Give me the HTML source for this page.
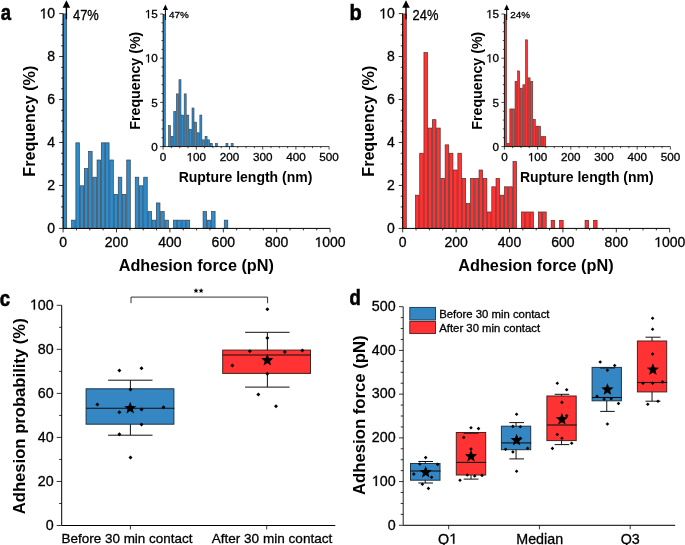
<!DOCTYPE html>
<html><head><meta charset="utf-8"><style>
html,body{margin:0;padding:0;background:#fff;}
svg{display:block;will-change:transform;}
text{font-family:"Liberation Sans", sans-serif;}
text.r{stroke:#000;stroke-width:0.3px;}
</style></head><body>
<svg width="685" height="545" viewBox="0 0 685 545">
<defs><path id="one" stroke="#000" stroke-width="45" d="M560 0V1245Q520 1195 420 1125T215 1010V1180Q330 1230 430 1305T575 1440H740V0Z"/></defs>
<rect width="685" height="545" fill="#fff"/>
<rect x="63.15" y="13.95" width="3.54" height="214.45" fill="#2f8bca" stroke="#35424f" stroke-width="0.7"/>
<rect x="71.63" y="220.16" width="3.54" height="8.24" fill="#2f8bca" stroke="#35424f" stroke-width="0.7"/>
<rect x="75.87" y="142.83" width="3.54" height="85.57" fill="#2f8bca" stroke="#35424f" stroke-width="0.7"/>
<rect x="80.11" y="185.79" width="3.54" height="42.61" fill="#2f8bca" stroke="#35424f" stroke-width="0.7"/>
<rect x="84.35" y="168.61" width="3.54" height="59.79" fill="#2f8bca" stroke="#35424f" stroke-width="0.7"/>
<rect x="88.59" y="151.42" width="3.54" height="76.98" fill="#2f8bca" stroke="#35424f" stroke-width="0.7"/>
<rect x="92.83" y="177.20" width="3.54" height="51.20" fill="#2f8bca" stroke="#35424f" stroke-width="0.7"/>
<rect x="97.07" y="160.01" width="3.54" height="68.39" fill="#2f8bca" stroke="#35424f" stroke-width="0.7"/>
<rect x="101.31" y="142.83" width="3.54" height="85.57" fill="#2f8bca" stroke="#35424f" stroke-width="0.7"/>
<rect x="105.55" y="142.83" width="3.54" height="85.57" fill="#2f8bca" stroke="#35424f" stroke-width="0.7"/>
<rect x="109.79" y="160.01" width="3.54" height="68.39" fill="#2f8bca" stroke="#35424f" stroke-width="0.7"/>
<rect x="114.03" y="194.38" width="3.54" height="34.02" fill="#2f8bca" stroke="#35424f" stroke-width="0.7"/>
<rect x="118.27" y="177.20" width="3.54" height="51.20" fill="#2f8bca" stroke="#35424f" stroke-width="0.7"/>
<rect x="122.51" y="194.38" width="3.54" height="34.02" fill="#2f8bca" stroke="#35424f" stroke-width="0.7"/>
<rect x="126.75" y="160.01" width="3.54" height="68.39" fill="#2f8bca" stroke="#35424f" stroke-width="0.7"/>
<rect x="135.23" y="177.20" width="3.54" height="51.20" fill="#2f8bca" stroke="#35424f" stroke-width="0.7"/>
<rect x="139.47" y="185.79" width="3.54" height="42.61" fill="#2f8bca" stroke="#35424f" stroke-width="0.7"/>
<rect x="143.71" y="177.20" width="3.54" height="51.20" fill="#2f8bca" stroke="#35424f" stroke-width="0.7"/>
<rect x="147.95" y="211.57" width="3.54" height="16.83" fill="#2f8bca" stroke="#35424f" stroke-width="0.7"/>
<rect x="152.19" y="220.16" width="3.54" height="8.24" fill="#2f8bca" stroke="#35424f" stroke-width="0.7"/>
<rect x="156.43" y="202.97" width="3.54" height="25.43" fill="#2f8bca" stroke="#35424f" stroke-width="0.7"/>
<rect x="160.67" y="211.57" width="3.54" height="16.83" fill="#2f8bca" stroke="#35424f" stroke-width="0.7"/>
<rect x="164.91" y="220.16" width="3.54" height="8.24" fill="#2f8bca" stroke="#35424f" stroke-width="0.7"/>
<rect x="173.39" y="220.16" width="3.54" height="8.24" fill="#2f8bca" stroke="#35424f" stroke-width="0.7"/>
<rect x="177.63" y="220.16" width="3.54" height="8.24" fill="#2f8bca" stroke="#35424f" stroke-width="0.7"/>
<rect x="181.87" y="220.16" width="3.54" height="8.24" fill="#2f8bca" stroke="#35424f" stroke-width="0.7"/>
<rect x="186.11" y="220.16" width="3.54" height="8.24" fill="#2f8bca" stroke="#35424f" stroke-width="0.7"/>
<rect x="203.07" y="211.57" width="3.54" height="16.83" fill="#2f8bca" stroke="#35424f" stroke-width="0.7"/>
<rect x="207.31" y="220.16" width="3.54" height="8.24" fill="#2f8bca" stroke="#35424f" stroke-width="0.7"/>
<rect x="211.55" y="211.57" width="3.54" height="16.83" fill="#2f8bca" stroke="#35424f" stroke-width="0.7"/>
<rect x="224.27" y="220.16" width="3.54" height="8.24" fill="#2f8bca" stroke="#35424f" stroke-width="0.7"/>
<line x1="63.10" y1="228.40" x2="330.10" y2="228.40" stroke="#000" stroke-width="1"/>
<line x1="63.10" y1="228.40" x2="63.10" y2="13.60" stroke="#000" stroke-width="1"/>
<line x1="59.10" y1="228.40" x2="63.10" y2="228.40" stroke="#000" stroke-width="0.8"/>
<line x1="61.10" y1="217.66" x2="63.10" y2="217.66" stroke="#000" stroke-width="0.8"/>
<line x1="61.10" y1="206.92" x2="63.10" y2="206.92" stroke="#000" stroke-width="0.8"/>
<line x1="61.10" y1="196.18" x2="63.10" y2="196.18" stroke="#000" stroke-width="0.8"/>
<line x1="59.10" y1="185.44" x2="63.10" y2="185.44" stroke="#000" stroke-width="0.8"/>
<line x1="61.10" y1="174.70" x2="63.10" y2="174.70" stroke="#000" stroke-width="0.8"/>
<line x1="61.10" y1="163.96" x2="63.10" y2="163.96" stroke="#000" stroke-width="0.8"/>
<line x1="61.10" y1="153.22" x2="63.10" y2="153.22" stroke="#000" stroke-width="0.8"/>
<line x1="59.10" y1="142.48" x2="63.10" y2="142.48" stroke="#000" stroke-width="0.8"/>
<line x1="61.10" y1="131.74" x2="63.10" y2="131.74" stroke="#000" stroke-width="0.8"/>
<line x1="61.10" y1="121.00" x2="63.10" y2="121.00" stroke="#000" stroke-width="0.8"/>
<line x1="61.10" y1="110.26" x2="63.10" y2="110.26" stroke="#000" stroke-width="0.8"/>
<line x1="59.10" y1="99.52" x2="63.10" y2="99.52" stroke="#000" stroke-width="0.8"/>
<line x1="61.10" y1="88.78" x2="63.10" y2="88.78" stroke="#000" stroke-width="0.8"/>
<line x1="61.10" y1="78.04" x2="63.10" y2="78.04" stroke="#000" stroke-width="0.8"/>
<line x1="61.10" y1="67.30" x2="63.10" y2="67.30" stroke="#000" stroke-width="0.8"/>
<line x1="59.10" y1="56.56" x2="63.10" y2="56.56" stroke="#000" stroke-width="0.8"/>
<line x1="61.10" y1="45.82" x2="63.10" y2="45.82" stroke="#000" stroke-width="0.8"/>
<line x1="61.10" y1="35.08" x2="63.10" y2="35.08" stroke="#000" stroke-width="0.8"/>
<line x1="61.10" y1="24.34" x2="63.10" y2="24.34" stroke="#000" stroke-width="0.8"/>
<line x1="59.10" y1="13.60" x2="63.10" y2="13.60" stroke="#000" stroke-width="0.8"/>
<text class="r" x="55.10" y="233.20" font-size="14" text-anchor="end" fill="#000">0</text>
<text class="r" x="55.10" y="190.24" font-size="14" text-anchor="end" fill="#000">2</text>
<text class="r" x="55.10" y="147.28" font-size="14" text-anchor="end" fill="#000">4</text>
<text class="r" x="55.10" y="104.32" font-size="14" text-anchor="end" fill="#000">6</text>
<text class="r" x="55.10" y="61.36" font-size="14" text-anchor="end" fill="#000">8</text>
<use href="#one" transform="translate(39.53 18.40) scale(0.00684 -0.00684)"/>
<text class="r" x="47.31" y="18.40" font-size="14" fill="#000">0</text>
<line x1="63.10" y1="228.40" x2="63.10" y2="232.40" stroke="#000" stroke-width="0.8"/>
<line x1="76.45" y1="228.40" x2="76.45" y2="230.40" stroke="#000" stroke-width="0.8"/>
<line x1="89.80" y1="228.40" x2="89.80" y2="230.40" stroke="#000" stroke-width="0.8"/>
<line x1="103.15" y1="228.40" x2="103.15" y2="230.40" stroke="#000" stroke-width="0.8"/>
<line x1="116.50" y1="228.40" x2="116.50" y2="232.40" stroke="#000" stroke-width="0.8"/>
<line x1="129.85" y1="228.40" x2="129.85" y2="230.40" stroke="#000" stroke-width="0.8"/>
<line x1="143.20" y1="228.40" x2="143.20" y2="230.40" stroke="#000" stroke-width="0.8"/>
<line x1="156.55" y1="228.40" x2="156.55" y2="230.40" stroke="#000" stroke-width="0.8"/>
<line x1="169.90" y1="228.40" x2="169.90" y2="232.40" stroke="#000" stroke-width="0.8"/>
<line x1="183.25" y1="228.40" x2="183.25" y2="230.40" stroke="#000" stroke-width="0.8"/>
<line x1="196.60" y1="228.40" x2="196.60" y2="230.40" stroke="#000" stroke-width="0.8"/>
<line x1="209.95" y1="228.40" x2="209.95" y2="230.40" stroke="#000" stroke-width="0.8"/>
<line x1="223.30" y1="228.40" x2="223.30" y2="232.40" stroke="#000" stroke-width="0.8"/>
<line x1="236.65" y1="228.40" x2="236.65" y2="230.40" stroke="#000" stroke-width="0.8"/>
<line x1="250.00" y1="228.40" x2="250.00" y2="230.40" stroke="#000" stroke-width="0.8"/>
<line x1="263.35" y1="228.40" x2="263.35" y2="230.40" stroke="#000" stroke-width="0.8"/>
<line x1="276.70" y1="228.40" x2="276.70" y2="232.40" stroke="#000" stroke-width="0.8"/>
<line x1="290.05" y1="228.40" x2="290.05" y2="230.40" stroke="#000" stroke-width="0.8"/>
<line x1="303.40" y1="228.40" x2="303.40" y2="230.40" stroke="#000" stroke-width="0.8"/>
<line x1="316.75" y1="228.40" x2="316.75" y2="230.40" stroke="#000" stroke-width="0.8"/>
<line x1="330.10" y1="228.40" x2="330.10" y2="232.40" stroke="#000" stroke-width="0.8"/>
<text class="r" x="63.10" y="247.00" font-size="14" text-anchor="middle" fill="#000">0</text>
<text class="r" x="116.50" y="247.00" font-size="14" text-anchor="middle" fill="#000">200</text>
<text class="r" x="169.90" y="247.00" font-size="14" text-anchor="middle" fill="#000">400</text>
<text class="r" x="223.30" y="247.00" font-size="14" text-anchor="middle" fill="#000">600</text>
<text class="r" x="276.70" y="247.00" font-size="14" text-anchor="middle" fill="#000">800</text>
<use href="#one" transform="translate(314.53 247.00) scale(0.00684 -0.00684)"/>
<text class="r" x="322.31" y="247.00" font-size="14" fill="#000">000</text>
<line x1="66.40" y1="19.30" x2="66.40" y2="6.00" stroke="#000" stroke-width="1.4"/>
<path d="M62.60 7.7 L66.40 0.3 L70.20 7.7 Z" fill="#000"/>
<text class="r" x="73.00" y="19.50" font-size="14" textLength="25.8" lengthAdjust="spacingAndGlyphs" fill="#000">47%</text>
<text x="196.30" y="271.40" font-size="16" text-anchor="middle" font-weight="bold" textLength="155.3" lengthAdjust="spacingAndGlyphs" fill="#000">Adhesion force (pN)</text>
<text x="34.60" y="121.20" font-size="16" text-anchor="middle" font-weight="bold" textLength="111" lengthAdjust="spacingAndGlyphs" transform="rotate(-90 34.60 121.20)" fill="#000">Frequency (%)</text>
<text transform="translate(0.70 19.80) scale(0.86 1)" font-size="21.5" font-weight="bold" stroke="#000" stroke-width="0.6">a</text>
<rect x="163.30" y="14.30" width="2.01" height="132.30" fill="#2f8bca" stroke="#35424f" stroke-width="0.6"/>
<rect x="168.52" y="125.68" width="2.01" height="20.92" fill="#2f8bca" stroke="#35424f" stroke-width="0.6"/>
<rect x="171.13" y="136.29" width="2.01" height="10.31" fill="#2f8bca" stroke="#35424f" stroke-width="0.6"/>
<rect x="173.74" y="111.54" width="2.01" height="35.06" fill="#2f8bca" stroke="#35424f" stroke-width="0.6"/>
<rect x="176.35" y="93.86" width="2.01" height="52.74" fill="#2f8bca" stroke="#35424f" stroke-width="0.6"/>
<rect x="178.96" y="79.72" width="2.01" height="66.88" fill="#2f8bca" stroke="#35424f" stroke-width="0.6"/>
<rect x="181.57" y="115.08" width="2.01" height="31.52" fill="#2f8bca" stroke="#35424f" stroke-width="0.6"/>
<rect x="184.18" y="93.86" width="2.01" height="52.74" fill="#2f8bca" stroke="#35424f" stroke-width="0.6"/>
<rect x="186.79" y="115.08" width="2.01" height="31.52" fill="#2f8bca" stroke="#35424f" stroke-width="0.6"/>
<rect x="189.40" y="129.22" width="2.01" height="17.38" fill="#2f8bca" stroke="#35424f" stroke-width="0.6"/>
<rect x="192.01" y="108.00" width="2.01" height="38.60" fill="#2f8bca" stroke="#35424f" stroke-width="0.6"/>
<rect x="194.62" y="122.15" width="2.01" height="24.45" fill="#2f8bca" stroke="#35424f" stroke-width="0.6"/>
<rect x="197.23" y="132.76" width="2.01" height="13.84" fill="#2f8bca" stroke="#35424f" stroke-width="0.6"/>
<rect x="199.84" y="115.08" width="2.01" height="31.52" fill="#2f8bca" stroke="#35424f" stroke-width="0.6"/>
<rect x="202.45" y="139.83" width="2.01" height="6.77" fill="#2f8bca" stroke="#35424f" stroke-width="0.6"/>
<rect x="205.06" y="136.29" width="2.01" height="10.31" fill="#2f8bca" stroke="#35424f" stroke-width="0.6"/>
<rect x="207.67" y="139.83" width="2.01" height="6.77" fill="#2f8bca" stroke="#35424f" stroke-width="0.6"/>
<rect x="210.28" y="143.36" width="2.01" height="3.24" fill="#2f8bca" stroke="#35424f" stroke-width="0.6"/>
<rect x="215.50" y="143.36" width="2.01" height="3.24" fill="#2f8bca" stroke="#35424f" stroke-width="0.6"/>
<rect x="225.94" y="143.36" width="2.01" height="3.24" fill="#2f8bca" stroke="#35424f" stroke-width="0.6"/>
<rect x="231.16" y="143.36" width="2.01" height="3.24" fill="#2f8bca" stroke="#35424f" stroke-width="0.6"/>
<line x1="163.10" y1="146.60" x2="329.10" y2="146.60" stroke="#000" stroke-width="0.8"/>
<line x1="163.10" y1="146.60" x2="163.10" y2="14.00" stroke="#000" stroke-width="0.8"/>
<line x1="160.10" y1="146.60" x2="163.10" y2="146.60" stroke="#000" stroke-width="0.7"/>
<line x1="161.50" y1="137.76" x2="163.10" y2="137.76" stroke="#000" stroke-width="0.7"/>
<line x1="161.50" y1="128.92" x2="163.10" y2="128.92" stroke="#000" stroke-width="0.7"/>
<line x1="161.50" y1="120.08" x2="163.10" y2="120.08" stroke="#000" stroke-width="0.7"/>
<line x1="161.50" y1="111.24" x2="163.10" y2="111.24" stroke="#000" stroke-width="0.7"/>
<line x1="160.10" y1="102.40" x2="163.10" y2="102.40" stroke="#000" stroke-width="0.7"/>
<line x1="161.50" y1="93.56" x2="163.10" y2="93.56" stroke="#000" stroke-width="0.7"/>
<line x1="161.50" y1="84.72" x2="163.10" y2="84.72" stroke="#000" stroke-width="0.7"/>
<line x1="161.50" y1="75.88" x2="163.10" y2="75.88" stroke="#000" stroke-width="0.7"/>
<line x1="161.50" y1="67.04" x2="163.10" y2="67.04" stroke="#000" stroke-width="0.7"/>
<line x1="160.10" y1="58.20" x2="163.10" y2="58.20" stroke="#000" stroke-width="0.7"/>
<line x1="161.50" y1="49.36" x2="163.10" y2="49.36" stroke="#000" stroke-width="0.7"/>
<line x1="161.50" y1="40.52" x2="163.10" y2="40.52" stroke="#000" stroke-width="0.7"/>
<line x1="161.50" y1="31.68" x2="163.10" y2="31.68" stroke="#000" stroke-width="0.7"/>
<line x1="161.50" y1="22.84" x2="163.10" y2="22.84" stroke="#000" stroke-width="0.7"/>
<line x1="160.10" y1="14.00" x2="163.10" y2="14.00" stroke="#000" stroke-width="0.7"/>
<text class="r" x="157.80" y="150.80" font-size="11.7" text-anchor="end" fill="#000">0</text>
<text class="r" x="157.80" y="106.60" font-size="11.7" text-anchor="end" fill="#000">5</text>
<use href="#one" transform="translate(144.79 62.40) scale(0.00571 -0.00571)"/>
<text class="r" x="151.29" y="62.40" font-size="11.7" fill="#000">0</text>
<use href="#one" transform="translate(144.79 18.20) scale(0.00571 -0.00571)"/>
<text class="r" x="151.29" y="18.20" font-size="11.7" fill="#000">5</text>
<line x1="163.10" y1="146.60" x2="163.10" y2="149.60" stroke="#000" stroke-width="0.7"/>
<line x1="171.40" y1="146.60" x2="171.40" y2="148.20" stroke="#000" stroke-width="0.7"/>
<line x1="179.70" y1="146.60" x2="179.70" y2="148.20" stroke="#000" stroke-width="0.7"/>
<line x1="188.00" y1="146.60" x2="188.00" y2="148.20" stroke="#000" stroke-width="0.7"/>
<line x1="196.30" y1="146.60" x2="196.30" y2="149.60" stroke="#000" stroke-width="0.7"/>
<line x1="204.60" y1="146.60" x2="204.60" y2="148.20" stroke="#000" stroke-width="0.7"/>
<line x1="212.90" y1="146.60" x2="212.90" y2="148.20" stroke="#000" stroke-width="0.7"/>
<line x1="221.20" y1="146.60" x2="221.20" y2="148.20" stroke="#000" stroke-width="0.7"/>
<line x1="229.50" y1="146.60" x2="229.50" y2="149.60" stroke="#000" stroke-width="0.7"/>
<line x1="237.80" y1="146.60" x2="237.80" y2="148.20" stroke="#000" stroke-width="0.7"/>
<line x1="246.10" y1="146.60" x2="246.10" y2="148.20" stroke="#000" stroke-width="0.7"/>
<line x1="254.40" y1="146.60" x2="254.40" y2="148.20" stroke="#000" stroke-width="0.7"/>
<line x1="262.70" y1="146.60" x2="262.70" y2="149.60" stroke="#000" stroke-width="0.7"/>
<line x1="271.00" y1="146.60" x2="271.00" y2="148.20" stroke="#000" stroke-width="0.7"/>
<line x1="279.30" y1="146.60" x2="279.30" y2="148.20" stroke="#000" stroke-width="0.7"/>
<line x1="287.60" y1="146.60" x2="287.60" y2="148.20" stroke="#000" stroke-width="0.7"/>
<line x1="295.90" y1="146.60" x2="295.90" y2="149.60" stroke="#000" stroke-width="0.7"/>
<line x1="304.20" y1="146.60" x2="304.20" y2="148.20" stroke="#000" stroke-width="0.7"/>
<line x1="312.50" y1="146.60" x2="312.50" y2="148.20" stroke="#000" stroke-width="0.7"/>
<line x1="320.80" y1="146.60" x2="320.80" y2="148.20" stroke="#000" stroke-width="0.7"/>
<line x1="329.10" y1="146.60" x2="329.10" y2="149.60" stroke="#000" stroke-width="0.7"/>
<text class="r" x="163.10" y="161.30" font-size="11.7" text-anchor="middle" fill="#000">0</text>
<use href="#one" transform="translate(186.54 161.30) scale(0.00571 -0.00571)"/>
<text class="r" x="193.05" y="161.30" font-size="11.7" fill="#000">00</text>
<text class="r" x="229.50" y="161.30" font-size="11.7" text-anchor="middle" fill="#000">200</text>
<text class="r" x="262.70" y="161.30" font-size="11.7" text-anchor="middle" fill="#000">300</text>
<text class="r" x="295.90" y="161.30" font-size="11.7" text-anchor="middle" fill="#000">400</text>
<text class="r" x="329.10" y="161.30" font-size="11.7" text-anchor="middle" fill="#000">500</text>
<line x1="165.40" y1="20.00" x2="165.40" y2="9.00" stroke="#000" stroke-width="1"/>
<path d="M162.80 10 L165.40 4.5 L168.00 10 Z" fill="#000"/>
<text class="r" x="168.90" y="18.20" font-size="9.6" textLength="19.8" lengthAdjust="spacingAndGlyphs" fill="#000">47%</text>
<text x="245.50" y="182.20" font-size="14" text-anchor="middle" font-weight="bold" textLength="133.7" lengthAdjust="spacingAndGlyphs" fill="#000">Rupture length (nm)</text>
<text x="140.50" y="80.70" font-size="14" text-anchor="middle" font-weight="bold" textLength="98" lengthAdjust="spacingAndGlyphs" transform="rotate(-90 140.50 80.70)" fill="#000">Frequency (%)</text>
<rect x="402.75" y="13.95" width="3.54" height="214.45" fill="#ff3333" stroke="#5a2a2a" stroke-width="0.7"/>
<rect x="415.47" y="195.19" width="3.54" height="33.21" fill="#ff3333" stroke="#5a2a2a" stroke-width="0.7"/>
<rect x="419.71" y="153.24" width="3.54" height="75.16" fill="#ff3333" stroke="#5a2a2a" stroke-width="0.7"/>
<rect x="423.95" y="52.56" width="3.54" height="175.84" fill="#ff3333" stroke="#5a2a2a" stroke-width="0.7"/>
<rect x="428.19" y="128.07" width="3.54" height="100.33" fill="#ff3333" stroke="#5a2a2a" stroke-width="0.7"/>
<rect x="432.43" y="119.68" width="3.54" height="108.72" fill="#ff3333" stroke="#5a2a2a" stroke-width="0.7"/>
<rect x="436.67" y="128.07" width="3.54" height="100.33" fill="#ff3333" stroke="#5a2a2a" stroke-width="0.7"/>
<rect x="440.91" y="178.41" width="3.54" height="49.99" fill="#ff3333" stroke="#5a2a2a" stroke-width="0.7"/>
<rect x="445.15" y="144.85" width="3.54" height="83.55" fill="#ff3333" stroke="#5a2a2a" stroke-width="0.7"/>
<rect x="449.39" y="153.24" width="3.54" height="75.16" fill="#ff3333" stroke="#5a2a2a" stroke-width="0.7"/>
<rect x="453.63" y="170.02" width="3.54" height="58.38" fill="#ff3333" stroke="#5a2a2a" stroke-width="0.7"/>
<rect x="457.87" y="153.24" width="3.54" height="75.16" fill="#ff3333" stroke="#5a2a2a" stroke-width="0.7"/>
<rect x="462.11" y="178.41" width="3.54" height="49.99" fill="#ff3333" stroke="#5a2a2a" stroke-width="0.7"/>
<rect x="466.35" y="203.58" width="3.54" height="24.82" fill="#ff3333" stroke="#5a2a2a" stroke-width="0.7"/>
<rect x="470.59" y="178.41" width="3.54" height="49.99" fill="#ff3333" stroke="#5a2a2a" stroke-width="0.7"/>
<rect x="474.83" y="178.41" width="3.54" height="49.99" fill="#ff3333" stroke="#5a2a2a" stroke-width="0.7"/>
<rect x="479.07" y="170.02" width="3.54" height="58.38" fill="#ff3333" stroke="#5a2a2a" stroke-width="0.7"/>
<rect x="483.31" y="178.41" width="3.54" height="49.99" fill="#ff3333" stroke="#5a2a2a" stroke-width="0.7"/>
<rect x="487.55" y="211.97" width="3.54" height="16.43" fill="#ff3333" stroke="#5a2a2a" stroke-width="0.7"/>
<rect x="491.79" y="186.80" width="3.54" height="41.60" fill="#ff3333" stroke="#5a2a2a" stroke-width="0.7"/>
<rect x="496.03" y="178.41" width="3.54" height="49.99" fill="#ff3333" stroke="#5a2a2a" stroke-width="0.7"/>
<rect x="500.27" y="195.19" width="3.54" height="33.21" fill="#ff3333" stroke="#5a2a2a" stroke-width="0.7"/>
<rect x="504.51" y="186.80" width="3.54" height="41.60" fill="#ff3333" stroke="#5a2a2a" stroke-width="0.7"/>
<rect x="508.75" y="186.80" width="3.54" height="41.60" fill="#ff3333" stroke="#5a2a2a" stroke-width="0.7"/>
<rect x="512.99" y="161.63" width="3.54" height="66.77" fill="#ff3333" stroke="#5a2a2a" stroke-width="0.7"/>
<rect x="521.47" y="211.97" width="3.54" height="16.43" fill="#ff3333" stroke="#5a2a2a" stroke-width="0.7"/>
<rect x="525.71" y="211.97" width="3.54" height="16.43" fill="#ff3333" stroke="#5a2a2a" stroke-width="0.7"/>
<rect x="529.95" y="211.97" width="3.54" height="16.43" fill="#ff3333" stroke="#5a2a2a" stroke-width="0.7"/>
<rect x="538.43" y="211.97" width="3.54" height="16.43" fill="#ff3333" stroke="#5a2a2a" stroke-width="0.7"/>
<rect x="542.67" y="211.97" width="3.54" height="16.43" fill="#ff3333" stroke="#5a2a2a" stroke-width="0.7"/>
<rect x="551.15" y="220.36" width="3.54" height="8.04" fill="#ff3333" stroke="#5a2a2a" stroke-width="0.7"/>
<rect x="559.63" y="220.36" width="3.54" height="8.04" fill="#ff3333" stroke="#5a2a2a" stroke-width="0.7"/>
<rect x="585.07" y="220.36" width="3.54" height="8.04" fill="#ff3333" stroke="#5a2a2a" stroke-width="0.7"/>
<rect x="593.55" y="220.36" width="3.54" height="8.04" fill="#ff3333" stroke="#5a2a2a" stroke-width="0.7"/>
<line x1="402.70" y1="228.40" x2="669.70" y2="228.40" stroke="#000" stroke-width="1"/>
<line x1="402.70" y1="228.40" x2="402.70" y2="13.60" stroke="#000" stroke-width="1"/>
<line x1="398.70" y1="228.40" x2="402.70" y2="228.40" stroke="#000" stroke-width="0.8"/>
<line x1="400.70" y1="217.66" x2="402.70" y2="217.66" stroke="#000" stroke-width="0.8"/>
<line x1="400.70" y1="206.92" x2="402.70" y2="206.92" stroke="#000" stroke-width="0.8"/>
<line x1="400.70" y1="196.18" x2="402.70" y2="196.18" stroke="#000" stroke-width="0.8"/>
<line x1="398.70" y1="185.44" x2="402.70" y2="185.44" stroke="#000" stroke-width="0.8"/>
<line x1="400.70" y1="174.70" x2="402.70" y2="174.70" stroke="#000" stroke-width="0.8"/>
<line x1="400.70" y1="163.96" x2="402.70" y2="163.96" stroke="#000" stroke-width="0.8"/>
<line x1="400.70" y1="153.22" x2="402.70" y2="153.22" stroke="#000" stroke-width="0.8"/>
<line x1="398.70" y1="142.48" x2="402.70" y2="142.48" stroke="#000" stroke-width="0.8"/>
<line x1="400.70" y1="131.74" x2="402.70" y2="131.74" stroke="#000" stroke-width="0.8"/>
<line x1="400.70" y1="121.00" x2="402.70" y2="121.00" stroke="#000" stroke-width="0.8"/>
<line x1="400.70" y1="110.26" x2="402.70" y2="110.26" stroke="#000" stroke-width="0.8"/>
<line x1="398.70" y1="99.52" x2="402.70" y2="99.52" stroke="#000" stroke-width="0.8"/>
<line x1="400.70" y1="88.78" x2="402.70" y2="88.78" stroke="#000" stroke-width="0.8"/>
<line x1="400.70" y1="78.04" x2="402.70" y2="78.04" stroke="#000" stroke-width="0.8"/>
<line x1="400.70" y1="67.30" x2="402.70" y2="67.30" stroke="#000" stroke-width="0.8"/>
<line x1="398.70" y1="56.56" x2="402.70" y2="56.56" stroke="#000" stroke-width="0.8"/>
<line x1="400.70" y1="45.82" x2="402.70" y2="45.82" stroke="#000" stroke-width="0.8"/>
<line x1="400.70" y1="35.08" x2="402.70" y2="35.08" stroke="#000" stroke-width="0.8"/>
<line x1="400.70" y1="24.34" x2="402.70" y2="24.34" stroke="#000" stroke-width="0.8"/>
<line x1="398.70" y1="13.60" x2="402.70" y2="13.60" stroke="#000" stroke-width="0.8"/>
<text class="r" x="394.70" y="233.20" font-size="14" text-anchor="end" fill="#000">0</text>
<text class="r" x="394.70" y="190.24" font-size="14" text-anchor="end" fill="#000">2</text>
<text class="r" x="394.70" y="147.28" font-size="14" text-anchor="end" fill="#000">4</text>
<text class="r" x="394.70" y="104.32" font-size="14" text-anchor="end" fill="#000">6</text>
<text class="r" x="394.70" y="61.36" font-size="14" text-anchor="end" fill="#000">8</text>
<use href="#one" transform="translate(379.13 18.40) scale(0.00684 -0.00684)"/>
<text class="r" x="386.91" y="18.40" font-size="14" fill="#000">0</text>
<line x1="402.70" y1="228.40" x2="402.70" y2="232.40" stroke="#000" stroke-width="0.8"/>
<line x1="416.05" y1="228.40" x2="416.05" y2="230.40" stroke="#000" stroke-width="0.8"/>
<line x1="429.40" y1="228.40" x2="429.40" y2="230.40" stroke="#000" stroke-width="0.8"/>
<line x1="442.75" y1="228.40" x2="442.75" y2="230.40" stroke="#000" stroke-width="0.8"/>
<line x1="456.10" y1="228.40" x2="456.10" y2="232.40" stroke="#000" stroke-width="0.8"/>
<line x1="469.45" y1="228.40" x2="469.45" y2="230.40" stroke="#000" stroke-width="0.8"/>
<line x1="482.80" y1="228.40" x2="482.80" y2="230.40" stroke="#000" stroke-width="0.8"/>
<line x1="496.15" y1="228.40" x2="496.15" y2="230.40" stroke="#000" stroke-width="0.8"/>
<line x1="509.50" y1="228.40" x2="509.50" y2="232.40" stroke="#000" stroke-width="0.8"/>
<line x1="522.85" y1="228.40" x2="522.85" y2="230.40" stroke="#000" stroke-width="0.8"/>
<line x1="536.20" y1="228.40" x2="536.20" y2="230.40" stroke="#000" stroke-width="0.8"/>
<line x1="549.55" y1="228.40" x2="549.55" y2="230.40" stroke="#000" stroke-width="0.8"/>
<line x1="562.90" y1="228.40" x2="562.90" y2="232.40" stroke="#000" stroke-width="0.8"/>
<line x1="576.25" y1="228.40" x2="576.25" y2="230.40" stroke="#000" stroke-width="0.8"/>
<line x1="589.60" y1="228.40" x2="589.60" y2="230.40" stroke="#000" stroke-width="0.8"/>
<line x1="602.95" y1="228.40" x2="602.95" y2="230.40" stroke="#000" stroke-width="0.8"/>
<line x1="616.30" y1="228.40" x2="616.30" y2="232.40" stroke="#000" stroke-width="0.8"/>
<line x1="629.65" y1="228.40" x2="629.65" y2="230.40" stroke="#000" stroke-width="0.8"/>
<line x1="643.00" y1="228.40" x2="643.00" y2="230.40" stroke="#000" stroke-width="0.8"/>
<line x1="656.35" y1="228.40" x2="656.35" y2="230.40" stroke="#000" stroke-width="0.8"/>
<line x1="669.70" y1="228.40" x2="669.70" y2="232.40" stroke="#000" stroke-width="0.8"/>
<text class="r" x="402.70" y="247.00" font-size="14" text-anchor="middle" fill="#000">0</text>
<text class="r" x="456.10" y="247.00" font-size="14" text-anchor="middle" fill="#000">200</text>
<text class="r" x="509.50" y="247.00" font-size="14" text-anchor="middle" fill="#000">400</text>
<text class="r" x="562.90" y="247.00" font-size="14" text-anchor="middle" fill="#000">600</text>
<text class="r" x="616.30" y="247.00" font-size="14" text-anchor="middle" fill="#000">800</text>
<use href="#one" transform="translate(654.13 247.00) scale(0.00684 -0.00684)"/>
<text class="r" x="661.91" y="247.00" font-size="14" fill="#000">000</text>
<line x1="406.00" y1="19.30" x2="406.00" y2="6.00" stroke="#000" stroke-width="1.4"/>
<path d="M402.20 7.7 L406.00 0.3 L409.80 7.7 Z" fill="#000"/>
<text class="r" x="412.60" y="19.50" font-size="14" textLength="25.8" lengthAdjust="spacingAndGlyphs" fill="#000">24%</text>
<text x="535.90" y="271.40" font-size="16" text-anchor="middle" font-weight="bold" textLength="155.3" lengthAdjust="spacingAndGlyphs" fill="#000">Adhesion force (pN)</text>
<text x="374.20" y="121.20" font-size="16" text-anchor="middle" font-weight="bold" textLength="111" lengthAdjust="spacingAndGlyphs" transform="rotate(-90 374.20 121.20)" fill="#000">Frequency (%)</text>
<text transform="translate(349.40 19.70) scale(0.93 1)" font-size="21.5" font-weight="bold" stroke="#000" stroke-width="0.6">b</text>
<rect x="504.60" y="14.30" width="2.01" height="132.30" fill="#ff3333" stroke="#5a2a2a" stroke-width="0.6"/>
<rect x="507.21" y="143.45" width="2.01" height="3.15" fill="#ff3333" stroke="#5a2a2a" stroke-width="0.6"/>
<rect x="509.82" y="108.92" width="2.01" height="37.68" fill="#ff3333" stroke="#5a2a2a" stroke-width="0.6"/>
<rect x="512.43" y="108.92" width="2.01" height="37.68" fill="#ff3333" stroke="#5a2a2a" stroke-width="0.6"/>
<rect x="515.04" y="81.29" width="2.01" height="65.31" fill="#ff3333" stroke="#5a2a2a" stroke-width="0.6"/>
<rect x="517.65" y="70.94" width="2.01" height="75.66" fill="#ff3333" stroke="#5a2a2a" stroke-width="0.6"/>
<rect x="520.26" y="88.20" width="2.01" height="58.40" fill="#ff3333" stroke="#5a2a2a" stroke-width="0.6"/>
<rect x="522.87" y="84.75" width="2.01" height="61.85" fill="#ff3333" stroke="#5a2a2a" stroke-width="0.6"/>
<rect x="525.48" y="39.86" width="2.01" height="106.74" fill="#ff3333" stroke="#5a2a2a" stroke-width="0.6"/>
<rect x="528.09" y="77.84" width="2.01" height="68.76" fill="#ff3333" stroke="#5a2a2a" stroke-width="0.6"/>
<rect x="530.70" y="81.29" width="2.01" height="65.31" fill="#ff3333" stroke="#5a2a2a" stroke-width="0.6"/>
<rect x="533.31" y="119.28" width="2.01" height="27.32" fill="#ff3333" stroke="#5a2a2a" stroke-width="0.6"/>
<rect x="535.92" y="126.18" width="2.01" height="20.42" fill="#ff3333" stroke="#5a2a2a" stroke-width="0.6"/>
<rect x="538.53" y="126.18" width="2.01" height="20.42" fill="#ff3333" stroke="#5a2a2a" stroke-width="0.6"/>
<rect x="541.14" y="136.54" width="2.01" height="10.06" fill="#ff3333" stroke="#5a2a2a" stroke-width="0.6"/>
<rect x="543.75" y="136.54" width="2.01" height="10.06" fill="#ff3333" stroke="#5a2a2a" stroke-width="0.6"/>
<line x1="504.40" y1="146.60" x2="670.40" y2="146.60" stroke="#000" stroke-width="0.8"/>
<line x1="504.40" y1="146.60" x2="504.40" y2="14.00" stroke="#000" stroke-width="0.8"/>
<line x1="501.40" y1="146.60" x2="504.40" y2="146.60" stroke="#000" stroke-width="0.7"/>
<line x1="502.80" y1="137.76" x2="504.40" y2="137.76" stroke="#000" stroke-width="0.7"/>
<line x1="502.80" y1="128.92" x2="504.40" y2="128.92" stroke="#000" stroke-width="0.7"/>
<line x1="502.80" y1="120.08" x2="504.40" y2="120.08" stroke="#000" stroke-width="0.7"/>
<line x1="502.80" y1="111.24" x2="504.40" y2="111.24" stroke="#000" stroke-width="0.7"/>
<line x1="501.40" y1="102.40" x2="504.40" y2="102.40" stroke="#000" stroke-width="0.7"/>
<line x1="502.80" y1="93.56" x2="504.40" y2="93.56" stroke="#000" stroke-width="0.7"/>
<line x1="502.80" y1="84.72" x2="504.40" y2="84.72" stroke="#000" stroke-width="0.7"/>
<line x1="502.80" y1="75.88" x2="504.40" y2="75.88" stroke="#000" stroke-width="0.7"/>
<line x1="502.80" y1="67.04" x2="504.40" y2="67.04" stroke="#000" stroke-width="0.7"/>
<line x1="501.40" y1="58.20" x2="504.40" y2="58.20" stroke="#000" stroke-width="0.7"/>
<line x1="502.80" y1="49.36" x2="504.40" y2="49.36" stroke="#000" stroke-width="0.7"/>
<line x1="502.80" y1="40.52" x2="504.40" y2="40.52" stroke="#000" stroke-width="0.7"/>
<line x1="502.80" y1="31.68" x2="504.40" y2="31.68" stroke="#000" stroke-width="0.7"/>
<line x1="502.80" y1="22.84" x2="504.40" y2="22.84" stroke="#000" stroke-width="0.7"/>
<line x1="501.40" y1="14.00" x2="504.40" y2="14.00" stroke="#000" stroke-width="0.7"/>
<text class="r" x="499.10" y="150.80" font-size="11.7" text-anchor="end" fill="#000">0</text>
<text class="r" x="499.10" y="106.60" font-size="11.7" text-anchor="end" fill="#000">5</text>
<use href="#one" transform="translate(486.09 62.40) scale(0.00571 -0.00571)"/>
<text class="r" x="492.59" y="62.40" font-size="11.7" fill="#000">0</text>
<use href="#one" transform="translate(486.09 18.20) scale(0.00571 -0.00571)"/>
<text class="r" x="492.59" y="18.20" font-size="11.7" fill="#000">5</text>
<line x1="504.40" y1="146.60" x2="504.40" y2="149.60" stroke="#000" stroke-width="0.7"/>
<line x1="512.70" y1="146.60" x2="512.70" y2="148.20" stroke="#000" stroke-width="0.7"/>
<line x1="521.00" y1="146.60" x2="521.00" y2="148.20" stroke="#000" stroke-width="0.7"/>
<line x1="529.30" y1="146.60" x2="529.30" y2="148.20" stroke="#000" stroke-width="0.7"/>
<line x1="537.60" y1="146.60" x2="537.60" y2="149.60" stroke="#000" stroke-width="0.7"/>
<line x1="545.90" y1="146.60" x2="545.90" y2="148.20" stroke="#000" stroke-width="0.7"/>
<line x1="554.20" y1="146.60" x2="554.20" y2="148.20" stroke="#000" stroke-width="0.7"/>
<line x1="562.50" y1="146.60" x2="562.50" y2="148.20" stroke="#000" stroke-width="0.7"/>
<line x1="570.80" y1="146.60" x2="570.80" y2="149.60" stroke="#000" stroke-width="0.7"/>
<line x1="579.10" y1="146.60" x2="579.10" y2="148.20" stroke="#000" stroke-width="0.7"/>
<line x1="587.40" y1="146.60" x2="587.40" y2="148.20" stroke="#000" stroke-width="0.7"/>
<line x1="595.70" y1="146.60" x2="595.70" y2="148.20" stroke="#000" stroke-width="0.7"/>
<line x1="604.00" y1="146.60" x2="604.00" y2="149.60" stroke="#000" stroke-width="0.7"/>
<line x1="612.30" y1="146.60" x2="612.30" y2="148.20" stroke="#000" stroke-width="0.7"/>
<line x1="620.60" y1="146.60" x2="620.60" y2="148.20" stroke="#000" stroke-width="0.7"/>
<line x1="628.90" y1="146.60" x2="628.90" y2="148.20" stroke="#000" stroke-width="0.7"/>
<line x1="637.20" y1="146.60" x2="637.20" y2="149.60" stroke="#000" stroke-width="0.7"/>
<line x1="645.50" y1="146.60" x2="645.50" y2="148.20" stroke="#000" stroke-width="0.7"/>
<line x1="653.80" y1="146.60" x2="653.80" y2="148.20" stroke="#000" stroke-width="0.7"/>
<line x1="662.10" y1="146.60" x2="662.10" y2="148.20" stroke="#000" stroke-width="0.7"/>
<line x1="670.40" y1="146.60" x2="670.40" y2="149.60" stroke="#000" stroke-width="0.7"/>
<text class="r" x="504.40" y="161.30" font-size="11.7" text-anchor="middle" fill="#000">0</text>
<use href="#one" transform="translate(527.84 161.30) scale(0.00571 -0.00571)"/>
<text class="r" x="534.35" y="161.30" font-size="11.7" fill="#000">00</text>
<text class="r" x="570.80" y="161.30" font-size="11.7" text-anchor="middle" fill="#000">200</text>
<text class="r" x="604.00" y="161.30" font-size="11.7" text-anchor="middle" fill="#000">300</text>
<text class="r" x="637.20" y="161.30" font-size="11.7" text-anchor="middle" fill="#000">400</text>
<text class="r" x="670.40" y="161.30" font-size="11.7" text-anchor="middle" fill="#000">500</text>
<line x1="506.70" y1="20.00" x2="506.70" y2="9.00" stroke="#000" stroke-width="1"/>
<path d="M504.10 10 L506.70 4.5 L509.30 10 Z" fill="#000"/>
<text class="r" x="510.20" y="18.20" font-size="9.6" textLength="19.8" lengthAdjust="spacingAndGlyphs" fill="#000">24%</text>
<text x="586.80" y="182.20" font-size="14" text-anchor="middle" font-weight="bold" textLength="133.7" lengthAdjust="spacingAndGlyphs" fill="#000">Rupture length (nm)</text>
<text x="481.80" y="80.70" font-size="14" text-anchor="middle" font-weight="bold" textLength="98" lengthAdjust="spacingAndGlyphs" transform="rotate(-90 481.80 80.70)" fill="#000">Frequency (%)</text>
<line x1="61.70" y1="525.50" x2="335.30" y2="525.50" stroke="#000" stroke-width="1"/>
<line x1="61.70" y1="525.50" x2="61.70" y2="305.30" stroke="#000" stroke-width="1"/>
<line x1="56.70" y1="525.50" x2="61.70" y2="525.50" stroke="#000" stroke-width="0.8"/>
<line x1="59.10" y1="503.48" x2="61.70" y2="503.48" stroke="#000" stroke-width="0.8"/>
<line x1="56.70" y1="481.46" x2="61.70" y2="481.46" stroke="#000" stroke-width="0.8"/>
<line x1="59.10" y1="459.44" x2="61.70" y2="459.44" stroke="#000" stroke-width="0.8"/>
<line x1="56.70" y1="437.42" x2="61.70" y2="437.42" stroke="#000" stroke-width="0.8"/>
<line x1="59.10" y1="415.40" x2="61.70" y2="415.40" stroke="#000" stroke-width="0.8"/>
<line x1="56.70" y1="393.38" x2="61.70" y2="393.38" stroke="#000" stroke-width="0.8"/>
<line x1="59.10" y1="371.36" x2="61.70" y2="371.36" stroke="#000" stroke-width="0.8"/>
<line x1="56.70" y1="349.34" x2="61.70" y2="349.34" stroke="#000" stroke-width="0.8"/>
<line x1="59.10" y1="327.32" x2="61.70" y2="327.32" stroke="#000" stroke-width="0.8"/>
<line x1="56.70" y1="305.30" x2="61.70" y2="305.30" stroke="#000" stroke-width="0.8"/>
<text class="r" x="53.70" y="529.80" font-size="14.3" text-anchor="end" fill="#000">0</text>
<text class="r" x="53.70" y="485.76" font-size="14.3" text-anchor="end" fill="#000">20</text>
<text class="r" x="53.70" y="441.72" font-size="14.3" text-anchor="end" fill="#000">40</text>
<text class="r" x="53.70" y="397.68" font-size="14.3" text-anchor="end" fill="#000">60</text>
<text class="r" x="53.70" y="353.64" font-size="14.3" text-anchor="end" fill="#000">80</text>
<use href="#one" transform="translate(29.84 309.60) scale(0.00698 -0.00698)"/>
<text class="r" x="37.79" y="309.60" font-size="14.3" fill="#000">00</text>
<line x1="130.40" y1="525.50" x2="130.40" y2="529.50" stroke="#000" stroke-width="0.8"/>
<line x1="266.70" y1="525.50" x2="266.70" y2="529.50" stroke="#000" stroke-width="0.8"/>
<text class="r" x="127.00" y="542.60" font-size="13.5" text-anchor="middle" textLength="131" lengthAdjust="spacingAndGlyphs" fill="#000">Before 30 min contact</text>
<text class="r" x="272.00" y="542.60" font-size="13.5" text-anchor="middle" textLength="120.7" lengthAdjust="spacingAndGlyphs" fill="#000">After 30 min contact</text>
<text x="25.00" y="416.30" font-size="16.5" text-anchor="middle" font-weight="bold" textLength="196" lengthAdjust="spacingAndGlyphs" transform="rotate(-90 25.00 416.30)" fill="#000">Adhesion probability (%)</text>
<text transform="translate(-0.30 305.60) scale(0.86 1)" font-size="21.5" font-weight="bold" stroke="#000" stroke-width="0.6">c</text>
<path d="M131 303.2 L131 297.1 L267.6 297.1 L267.6 303.2" fill="none" stroke="#333" stroke-width="1"/>
<polygon points="196.00,288.00 196.70,289.74 198.57,289.87 197.13,291.07 197.59,292.88 196.00,291.89 194.41,292.88 194.87,291.07 193.43,289.87 195.30,289.74" fill="#000"/>
<polygon points="201.10,288.00 201.80,289.74 203.67,289.87 202.23,291.07 202.69,292.88 201.10,291.89 199.51,292.88 199.97,291.07 198.53,289.87 200.40,289.74" fill="#000"/>
<rect x="86.10" y="388.80" width="87.80" height="35.40" fill="#3487c3" stroke="#1d3548" stroke-width="1"/>
<line x1="130.40" y1="380.20" x2="130.40" y2="388.80" stroke="#111" stroke-width="1"/>
<line x1="130.40" y1="424.20" x2="130.40" y2="435.20" stroke="#111" stroke-width="1"/>
<line x1="108.10" y1="380.20" x2="152.50" y2="380.20" stroke="#111" stroke-width="1"/>
<line x1="108.10" y1="435.20" x2="152.50" y2="435.20" stroke="#111" stroke-width="1"/>
<line x1="86.10" y1="408.30" x2="174.40" y2="408.30" stroke="#111" stroke-width="1.1"/>
<rect x="222.70" y="350.10" width="87.80" height="23.30" fill="#ff3333" stroke="#4a2020" stroke-width="1"/>
<line x1="267.40" y1="332.30" x2="267.40" y2="350.10" stroke="#111" stroke-width="1"/>
<line x1="267.40" y1="373.40" x2="267.40" y2="387.10" stroke="#111" stroke-width="1"/>
<line x1="245.10" y1="332.30" x2="289.60" y2="332.30" stroke="#111" stroke-width="1"/>
<line x1="245.10" y1="387.10" x2="289.60" y2="387.10" stroke="#111" stroke-width="1"/>
<line x1="222.70" y1="355.00" x2="311.00" y2="355.00" stroke="#111" stroke-width="1.1"/>
<path d="M119.40 368.50 L121.40 370.50 L119.40 372.50 L117.40 370.50 Z" fill="#000"/>
<path d="M141.50 366.30 L143.50 368.30 L141.50 370.30 L139.50 368.30 Z" fill="#000"/>
<path d="M130.50 387.40 L132.50 389.40 L130.50 391.40 L128.50 389.40 Z" fill="#000"/>
<path d="M97.40 402.60 L99.40 404.60 L97.40 406.60 L95.40 404.60 Z" fill="#000"/>
<path d="M119.40 410.30 L121.40 412.30 L119.40 414.30 L117.40 412.30 Z" fill="#000"/>
<path d="M141.50 407.50 L143.50 409.50 L141.50 411.50 L139.50 409.50 Z" fill="#000"/>
<path d="M163.50 405.30 L165.50 407.30 L163.50 409.30 L161.50 407.30 Z" fill="#000"/>
<path d="M141.50 422.60 L143.50 424.60 L141.50 426.60 L139.50 424.60 Z" fill="#000"/>
<path d="M119.40 432.30 L121.40 434.30 L119.40 436.30 L117.40 434.30 Z" fill="#000"/>
<path d="M130.50 455.60 L132.50 457.60 L130.50 459.60 L128.50 457.60 Z" fill="#000"/>
<path d="M267.40 307.20 L269.40 309.20 L267.40 311.20 L265.40 309.20 Z" fill="#000"/>
<path d="M267.40 336.00 L269.40 338.00 L267.40 340.00 L265.40 338.00 Z" fill="#000"/>
<path d="M249.80 349.20 L251.80 351.20 L249.80 353.20 L247.80 351.20 Z" fill="#000"/>
<path d="M284.80 350.10 L286.80 352.10 L284.80 354.10 L282.80 352.10 Z" fill="#000"/>
<path d="M302.40 348.50 L304.40 350.50 L302.40 352.50 L300.40 350.50 Z" fill="#000"/>
<path d="M232.40 363.50 L234.40 365.50 L232.40 367.50 L230.40 365.50 Z" fill="#000"/>
<path d="M267.40 371.70 L269.40 373.70 L267.40 375.70 L265.40 373.70 Z" fill="#000"/>
<path d="M258.30 392.40 L260.30 394.40 L258.30 396.40 L256.30 394.40 Z" fill="#000"/>
<path d="M276.00 404.20 L278.00 406.20 L276.00 408.20 L274.00 406.20 Z" fill="#000"/>
<polygon points="130.20,401.80 131.86,405.92 136.29,406.22 132.88,409.07 133.96,413.38 130.20,411.02 126.44,413.38 127.52,409.07 124.11,406.22 128.54,405.92" fill="#000"/>
<polygon points="267.30,353.90 268.96,358.02 273.39,358.32 269.98,361.17 271.06,365.48 267.30,363.12 263.54,365.48 264.62,361.17 261.21,358.32 265.64,358.02" fill="#000"/>
<line x1="403.20" y1="525.30" x2="675.20" y2="525.30" stroke="#000" stroke-width="1"/>
<line x1="403.20" y1="525.30" x2="403.20" y2="306.70" stroke="#333" stroke-width="1.1"/>
<line x1="399.00" y1="525.30" x2="403.20" y2="525.30" stroke="#000" stroke-width="0.8"/>
<line x1="400.70" y1="514.37" x2="403.20" y2="514.37" stroke="#000" stroke-width="0.8"/>
<line x1="400.70" y1="503.44" x2="403.20" y2="503.44" stroke="#000" stroke-width="0.8"/>
<line x1="400.70" y1="492.51" x2="403.20" y2="492.51" stroke="#000" stroke-width="0.8"/>
<line x1="399.00" y1="481.58" x2="403.20" y2="481.58" stroke="#000" stroke-width="0.8"/>
<line x1="400.70" y1="470.65" x2="403.20" y2="470.65" stroke="#000" stroke-width="0.8"/>
<line x1="400.70" y1="459.72" x2="403.20" y2="459.72" stroke="#000" stroke-width="0.8"/>
<line x1="400.70" y1="448.79" x2="403.20" y2="448.79" stroke="#000" stroke-width="0.8"/>
<line x1="399.00" y1="437.86" x2="403.20" y2="437.86" stroke="#000" stroke-width="0.8"/>
<line x1="400.70" y1="426.93" x2="403.20" y2="426.93" stroke="#000" stroke-width="0.8"/>
<line x1="400.70" y1="416.00" x2="403.20" y2="416.00" stroke="#000" stroke-width="0.8"/>
<line x1="400.70" y1="405.07" x2="403.20" y2="405.07" stroke="#000" stroke-width="0.8"/>
<line x1="399.00" y1="394.14" x2="403.20" y2="394.14" stroke="#000" stroke-width="0.8"/>
<line x1="400.70" y1="383.21" x2="403.20" y2="383.21" stroke="#000" stroke-width="0.8"/>
<line x1="400.70" y1="372.28" x2="403.20" y2="372.28" stroke="#000" stroke-width="0.8"/>
<line x1="400.70" y1="361.35" x2="403.20" y2="361.35" stroke="#000" stroke-width="0.8"/>
<line x1="399.00" y1="350.42" x2="403.20" y2="350.42" stroke="#000" stroke-width="0.8"/>
<line x1="400.70" y1="339.49" x2="403.20" y2="339.49" stroke="#000" stroke-width="0.8"/>
<line x1="400.70" y1="328.56" x2="403.20" y2="328.56" stroke="#000" stroke-width="0.8"/>
<line x1="400.70" y1="317.63" x2="403.20" y2="317.63" stroke="#000" stroke-width="0.8"/>
<line x1="399.00" y1="306.70" x2="403.20" y2="306.70" stroke="#000" stroke-width="0.8"/>
<text class="r" x="395.60" y="529.60" font-size="14.3" text-anchor="end" fill="#000">0</text>
<use href="#one" transform="translate(371.74 485.88) scale(0.00698 -0.00698)"/>
<text class="r" x="379.69" y="485.88" font-size="14.3" fill="#000">00</text>
<text class="r" x="395.60" y="442.16" font-size="14.3" text-anchor="end" fill="#000">200</text>
<text class="r" x="395.60" y="398.44" font-size="14.3" text-anchor="end" fill="#000">300</text>
<text class="r" x="395.60" y="354.72" font-size="14.3" text-anchor="end" fill="#000">400</text>
<text class="r" x="395.60" y="311.00" font-size="14.3" text-anchor="end" fill="#000">500</text>
<line x1="448.70" y1="525.30" x2="448.70" y2="529.30" stroke="#000" stroke-width="0.8"/>
<text class="r" x="438.06" y="543.70" font-size="14.3" fill="#000">Q</text>
<use href="#one" transform="translate(449.19 543.70) scale(0.00698 -0.00698)"/>
<line x1="539.40" y1="525.30" x2="539.40" y2="529.30" stroke="#000" stroke-width="0.8"/>
<text class="r" x="539.70" y="543.70" font-size="14.3" text-anchor="middle" fill="#000">Median</text>
<line x1="630.20" y1="525.30" x2="630.20" y2="529.30" stroke="#000" stroke-width="0.8"/>
<text class="r" x="630.20" y="543.70" font-size="14.3" text-anchor="middle" fill="#000">Q3</text>
<text x="365.50" y="415.20" font-size="16.5" text-anchor="middle" font-weight="bold" textLength="159.5" lengthAdjust="spacingAndGlyphs" transform="rotate(-90 365.50 415.20)" fill="#000">Adhesion force (pN)</text>
<text transform="translate(349.60 305.10) scale(0.86 1)" font-size="21.5" font-weight="bold" stroke="#000" stroke-width="0.6">d</text>
<rect x="409.80" y="307.40" width="25.70" height="12.60" fill="#3487c3" stroke="#1d3548" stroke-width="0.9"/>
<rect x="409.80" y="321.40" width="25.70" height="12.20" fill="#ff3333" stroke="#4a2020" stroke-width="0.9"/>
<text class="r" x="439.20" y="318.20" font-size="11.35" textLength="110.3" lengthAdjust="spacingAndGlyphs" fill="#000">Before 30 min contact</text>
<text class="r" x="439.20" y="332.00" font-size="11.35" textLength="101" lengthAdjust="spacingAndGlyphs" fill="#000">After 30 min contact</text>
<rect x="410.50" y="463.50" width="29.50" height="16.70" fill="#3487c3" stroke="#1d3548" stroke-width="1"/>
<line x1="425.25" y1="461.50" x2="425.25" y2="463.50" stroke="#111" stroke-width="1"/>
<line x1="425.25" y1="480.20" x2="425.25" y2="483.00" stroke="#111" stroke-width="1"/>
<line x1="418.30" y1="461.50" x2="433.00" y2="461.50" stroke="#111" stroke-width="1"/>
<line x1="418.30" y1="483.00" x2="433.00" y2="483.00" stroke="#111" stroke-width="1"/>
<line x1="410.50" y1="471.00" x2="440.50" y2="471.00" stroke="#111" stroke-width="1.1"/>
<rect x="456.30" y="432.50" width="29.40" height="42.50" fill="#ff3333" stroke="#4a2020" stroke-width="1"/>
<line x1="471.00" y1="433.20" x2="471.00" y2="432.50" stroke="#111" stroke-width="1"/>
<line x1="471.00" y1="475.00" x2="471.00" y2="479.10" stroke="#111" stroke-width="1"/>
<line x1="463.70" y1="433.20" x2="478.50" y2="433.20" stroke="#111" stroke-width="1"/>
<line x1="463.70" y1="479.10" x2="478.50" y2="479.10" stroke="#111" stroke-width="1"/>
<line x1="456.30" y1="462.40" x2="486.20" y2="462.40" stroke="#111" stroke-width="1.1"/>
<rect x="501.40" y="426.20" width="29.30" height="23.50" fill="#3487c3" stroke="#1d3548" stroke-width="1"/>
<line x1="516.05" y1="422.60" x2="516.05" y2="426.20" stroke="#111" stroke-width="1"/>
<line x1="516.05" y1="449.70" x2="516.05" y2="458.90" stroke="#111" stroke-width="1"/>
<line x1="509.30" y1="422.60" x2="524.00" y2="422.60" stroke="#111" stroke-width="1"/>
<line x1="509.30" y1="458.90" x2="524.00" y2="458.90" stroke="#111" stroke-width="1"/>
<line x1="501.40" y1="442.90" x2="531.20" y2="442.90" stroke="#111" stroke-width="1.1"/>
<rect x="546.90" y="396.00" width="29.30" height="44.60" fill="#ff3333" stroke="#4a2020" stroke-width="1"/>
<line x1="561.55" y1="394.30" x2="561.55" y2="396.00" stroke="#111" stroke-width="1"/>
<line x1="561.55" y1="440.60" x2="561.55" y2="444.60" stroke="#111" stroke-width="1"/>
<line x1="554.60" y1="394.30" x2="569.30" y2="394.30" stroke="#111" stroke-width="1"/>
<line x1="554.60" y1="444.60" x2="569.30" y2="444.60" stroke="#111" stroke-width="1"/>
<line x1="546.90" y1="425.00" x2="576.70" y2="425.00" stroke="#111" stroke-width="1.1"/>
<rect x="592.10" y="367.40" width="29.30" height="33.40" fill="#3487c3" stroke="#1d3548" stroke-width="1"/>
<line x1="606.75" y1="368.00" x2="606.75" y2="367.40" stroke="#111" stroke-width="1"/>
<line x1="606.75" y1="400.80" x2="606.75" y2="411.40" stroke="#111" stroke-width="1"/>
<line x1="600.20" y1="368.00" x2="614.70" y2="368.00" stroke="#111" stroke-width="1"/>
<line x1="600.20" y1="411.40" x2="614.70" y2="411.40" stroke="#111" stroke-width="1"/>
<line x1="592.10" y1="397.50" x2="621.90" y2="397.50" stroke="#111" stroke-width="1.1"/>
<rect x="637.40" y="341.00" width="29.30" height="50.90" fill="#ff3333" stroke="#4a2020" stroke-width="1"/>
<line x1="652.05" y1="337.20" x2="652.05" y2="341.00" stroke="#111" stroke-width="1"/>
<line x1="652.05" y1="391.90" x2="652.05" y2="401.20" stroke="#111" stroke-width="1"/>
<line x1="645.50" y1="337.20" x2="660.50" y2="337.20" stroke="#111" stroke-width="1"/>
<line x1="645.50" y1="401.20" x2="660.50" y2="401.20" stroke="#111" stroke-width="1"/>
<line x1="637.40" y1="382.50" x2="667.20" y2="382.50" stroke="#111" stroke-width="1.1"/>
<path d="M425.70 455.80 L427.50 457.60 L425.70 459.40 L423.90 457.60 Z" fill="#000"/>
<path d="M419.80 462.20 L421.60 464.00 L419.80 465.80 L418.00 464.00 Z" fill="#000"/>
<path d="M437.60 462.60 L439.40 464.40 L437.60 466.20 L435.80 464.40 Z" fill="#000"/>
<path d="M413.80 472.30 L415.60 474.10 L413.80 475.90 L412.00 474.10 Z" fill="#000"/>
<path d="M431.60 475.40 L433.40 477.20 L431.60 479.00 L429.80 477.20 Z" fill="#000"/>
<path d="M422.40 482.40 L424.20 484.20 L422.40 486.00 L420.60 484.20 Z" fill="#000"/>
<path d="M428.40 486.60 L430.20 488.40 L428.40 490.20 L426.60 488.40 Z" fill="#000"/>
<path d="M471.00 425.90 L472.80 427.70 L471.00 429.50 L469.20 427.70 Z" fill="#000"/>
<path d="M478.50 426.80 L480.30 428.60 L478.50 430.40 L476.70 428.60 Z" fill="#000"/>
<path d="M463.70 435.60 L465.50 437.40 L463.70 439.20 L461.90 437.40 Z" fill="#000"/>
<path d="M471.00 447.20 L472.80 449.00 L471.00 450.80 L469.20 449.00 Z" fill="#000"/>
<path d="M467.30 473.20 L469.10 475.00 L467.30 476.80 L465.50 475.00 Z" fill="#000"/>
<path d="M474.70 474.20 L476.50 476.00 L474.70 477.80 L472.90 476.00 Z" fill="#000"/>
<path d="M482.00 473.60 L483.80 475.40 L482.00 477.20 L480.20 475.40 Z" fill="#000"/>
<path d="M460.00 478.40 L461.80 480.20 L460.00 482.00 L458.20 480.20 Z" fill="#000"/>
<path d="M516.60 412.50 L518.40 414.30 L516.60 416.10 L514.80 414.30 Z" fill="#000"/>
<path d="M512.90 424.60 L514.70 426.40 L512.90 428.20 L511.10 426.40 Z" fill="#000"/>
<path d="M520.30 425.00 L522.10 426.80 L520.30 428.60 L518.50 426.80 Z" fill="#000"/>
<path d="M520.30 436.50 L522.10 438.30 L520.30 440.10 L518.50 438.30 Z" fill="#000"/>
<path d="M505.60 447.40 L507.40 449.20 L505.60 451.00 L503.80 449.20 Z" fill="#000"/>
<path d="M527.60 446.50 L529.40 448.30 L527.60 450.10 L525.80 448.30 Z" fill="#000"/>
<path d="M512.90 450.10 L514.70 451.90 L512.90 453.70 L511.10 451.90 Z" fill="#000"/>
<path d="M516.60 469.40 L518.40 471.20 L516.60 473.00 L514.80 471.20 Z" fill="#000"/>
<path d="M557.30 381.50 L559.10 383.30 L557.30 385.10 L555.50 383.30 Z" fill="#000"/>
<path d="M566.70 387.90 L568.50 389.70 L566.70 391.50 L564.90 389.70 Z" fill="#000"/>
<path d="M561.90 400.60 L563.70 402.40 L561.90 404.20 L560.10 402.40 Z" fill="#000"/>
<path d="M566.70 414.00 L568.50 415.80 L566.70 417.60 L564.90 415.80 Z" fill="#000"/>
<path d="M557.30 432.70 L559.10 434.50 L557.30 436.30 L555.50 434.50 Z" fill="#000"/>
<path d="M561.90 436.50 L563.70 438.30 L561.90 440.10 L560.10 438.30 Z" fill="#000"/>
<path d="M571.70 441.50 L573.50 443.30 L571.70 445.10 L569.90 443.30 Z" fill="#000"/>
<path d="M552.40 446.60 L554.20 448.40 L552.40 450.20 L550.60 448.40 Z" fill="#000"/>
<path d="M600.20 360.20 L602.00 362.00 L600.20 363.80 L598.40 362.00 Z" fill="#000"/>
<path d="M614.70 363.70 L616.50 365.50 L614.70 367.30 L612.90 365.50 Z" fill="#000"/>
<path d="M607.40 368.50 L609.20 370.30 L607.40 372.10 L605.60 370.30 Z" fill="#000"/>
<path d="M597.00 394.50 L598.80 396.30 L597.00 398.10 L595.20 396.30 Z" fill="#000"/>
<path d="M604.10 397.40 L605.90 399.20 L604.10 401.00 L602.30 399.20 Z" fill="#000"/>
<path d="M611.20 396.90 L613.00 398.70 L611.20 400.50 L609.40 398.70 Z" fill="#000"/>
<path d="M618.50 401.70 L620.30 403.50 L618.50 405.30 L616.70 403.50 Z" fill="#000"/>
<path d="M607.40 422.20 L609.20 424.00 L607.40 425.80 L605.60 424.00 Z" fill="#000"/>
<path d="M652.60 316.50 L654.40 318.30 L652.60 320.10 L650.80 318.30 Z" fill="#000"/>
<path d="M652.60 327.50 L654.40 329.30 L652.60 331.10 L650.80 329.30 Z" fill="#000"/>
<path d="M652.60 352.20 L654.40 354.00 L652.60 355.80 L650.80 354.00 Z" fill="#000"/>
<path d="M643.00 381.40 L644.80 383.20 L643.00 385.00 L641.20 383.20 Z" fill="#000"/>
<path d="M652.60 381.40 L654.40 383.20 L652.60 385.00 L650.80 383.20 Z" fill="#000"/>
<path d="M662.50 380.10 L664.30 381.90 L662.50 383.70 L660.70 381.90 Z" fill="#000"/>
<path d="M658.00 399.40 L659.80 401.20 L658.00 403.00 L656.20 401.20 Z" fill="#000"/>
<path d="M647.80 402.50 L649.60 404.30 L647.80 406.10 L646.00 404.30 Z" fill="#000"/>
<polygon points="425.70,465.90 427.36,470.02 431.79,470.32 428.38,473.17 429.46,477.48 425.70,475.12 421.94,477.48 423.02,473.17 419.61,470.32 424.04,470.02" fill="#000"/>
<polygon points="471.00,449.90 472.66,454.02 477.09,454.32 473.68,457.17 474.76,461.48 471.00,459.12 467.24,461.48 468.32,457.17 464.91,454.32 469.34,454.02" fill="#000"/>
<polygon points="516.60,433.80 518.26,437.92 522.69,438.22 519.28,441.07 520.36,445.38 516.60,443.02 512.84,445.38 513.92,441.07 510.51,438.22 514.94,437.92" fill="#000"/>
<polygon points="561.90,413.00 563.56,417.12 567.99,417.42 564.58,420.27 565.66,424.58 561.90,422.22 558.14,424.58 559.22,420.27 555.81,417.42 560.24,417.12" fill="#000"/>
<polygon points="607.40,383.20 609.06,387.32 613.49,387.62 610.08,390.47 611.16,394.78 607.40,392.42 603.64,394.78 604.72,390.47 601.31,387.62 605.74,387.32" fill="#000"/>
<polygon points="652.90,363.30 654.56,367.42 658.99,367.72 655.58,370.57 656.66,374.88 652.90,372.52 649.14,374.88 650.22,370.57 646.81,367.72 651.24,367.42" fill="#000"/>
</svg>
</body></html>
